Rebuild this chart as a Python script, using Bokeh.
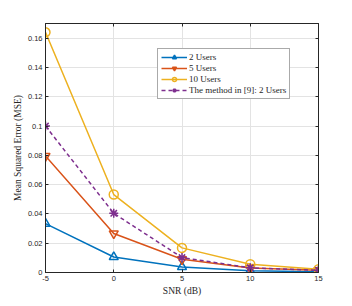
from bokeh.plotting import figure
from bokeh.models import LinearAxis, FixedTicker, Range1d, Legend, LegendItem
from bokeh.embed import file_html
from bokeh.resources import INLINE

snr = [-5, 0, 5, 10, 15]
mse_2users = [0.0334, 0.0106, 0.0038, 0.0012, 0.0005]
mse_5users = [0.0795, 0.0266, 0.0090, 0.0030, 0.0015]
mse_10users = [0.1640, 0.0532, 0.0168, 0.0057, 0.0023]
mse_method9 = [0.1000, 0.0404, 0.0102, 0.0032, 0.0015]
x_ticks = [-5, 0, 5, 10, 15]
y_ticks = [0, 0.02, 0.04, 0.06, 0.08, 0.10, 0.12, 0.14, 0.16]
y_tick_labels = ["0", "0.02", "0.04", "0.06", "0.08", "0.1", "0.12", "0.14", "0.16"]
labels = ["2 Users", "5 Users", "10 Users", "The method in [9]: 2 Users"]

axis_col = "#262626"
p = figure(width=352, height=306, output_backend="svg", toolbar_location=None,
           x_range=Range1d(-5, 15), y_range=Range1d(0, 0.17),
           min_border_left=45, min_border_right=34, min_border_top=23, min_border_bottom=34)
p.outline_line_color = axis_col
p.background_fill_color = "white"
p.border_fill_color = "white"

p.xaxis.ticker = FixedTicker(ticks=x_ticks)
p.yaxis.ticker = FixedTicker(ticks=y_ticks)
p.yaxis.major_label_overrides = {t: l for t, l in zip(y_ticks, y_tick_labels)}
p.xaxis.major_label_overrides = {t: str(t) for t in x_ticks}
for ax in [p.xaxis[0], p.yaxis[0]]:
    ax.major_tick_in = 3
    ax.major_tick_out = 0
    ax.minor_tick_in = 0
    ax.minor_tick_out = 0
    ax.axis_line_color = axis_col
    ax.major_tick_line_color = axis_col
    ax.major_label_text_color = axis_col
    ax.major_label_text_font = "Liberation Sans"
    ax.major_label_text_font_size = "7.5px"
    ax.axis_label_text_font = "Liberation Serif"
    ax.axis_label_text_font_style = "normal"
    ax.axis_label_text_font_size = "9.5px"
    ax.axis_label_text_color = axis_col
    ax.major_label_standoff = 3
p.xaxis.axis_label = "SNR (dB)"
p.yaxis.axis_label = "Mean Squared Error (MSE)"
p.xaxis.axis_label_standoff = 2
p.yaxis.axis_label_standoff = 2

for loc, tk in [("right", y_ticks), ("above", x_ticks)]:
    ax = LinearAxis(ticker=FixedTicker(ticks=tk), major_label_overrides={t: "" for t in tk},
                    major_tick_in=3, major_tick_out=0, minor_tick_in=0, minor_tick_out=0,
                    axis_line_color=axis_col, major_tick_line_color=axis_col)
    p.add_layout(ax, loc)

p.grid.grid_line_color = "#e3e3e3"
p.grid.grid_line_width = 1

colors = ["#0072BD", "#D95319", "#EDB120", "#7E2F8E"]
series = [mse_2users, mse_5users, mse_10users, mse_method9]
markers = ["triangle", "inverted_triangle", "circle", "asterisk"]
dashes = ["solid", "solid", "solid", "4 3"]
items = []
for ys, c, m, d, lab in zip(series, colors, markers, dashes, labels):
    r1 = p.line(snr, ys, line_color=c, line_width=1.5, line_dash=d)
    r2 = p.scatter(snr, ys, marker=m, size=9, line_color=c, fill_color=None if m != "asterisk" else c,
                   line_width=1.5)
    items.append(LegendItem(label=lab, renderers=[r1, r2]))

legend = Legend(items=items, location=(112, 173), label_text_font="Liberation Serif",
                label_text_font_size="9px", label_text_color=axis_col,
                glyph_height=10, glyph_width=26, label_height=10, spacing=1,
                padding=3, margin=0, label_standoff=2,
                border_line_color="#555555", border_line_width=1,
                background_fill_alpha=1)
p.add_layout(legend, "center")

open("out.html", "w").write(file_html(p, INLINE))
